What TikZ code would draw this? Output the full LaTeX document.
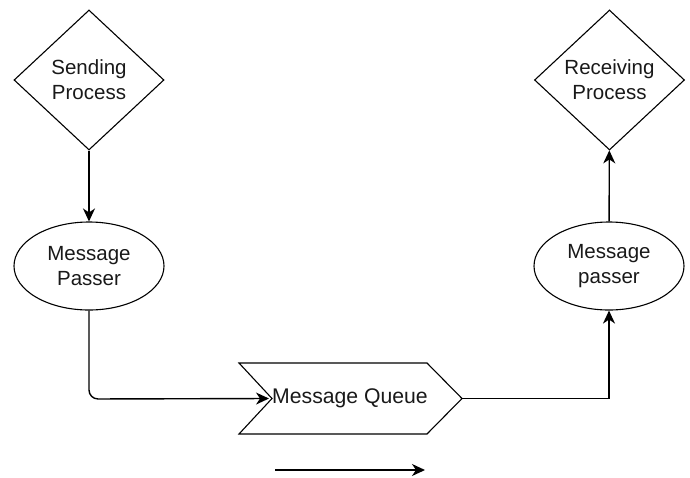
\documentclass[tikz,border=0pt]{standalone}
\usepackage{fontspec}
\setmainfont{Liberation Sans}
\usetikzlibrary{shapes.geometric,arrows.meta}
\begin{document}
\begin{tikzpicture}[x=1pt,y=-1pt,
  lbl/.style={font=\fontsize{20.5}{25}\selectfont, align=center, text=black!90},
  proc/.style={lbl, draw, line width=1.1pt, shape=diamond, aspect=1.07, minimum width=150pt, minimum height=140pt, inner sep=0pt},
  passer/.style={lbl, draw, line width=1.1pt, shape=ellipse, minimum width=150pt, minimum height=88pt, inner sep=0pt},
  conn/.style={line width=1.4pt, -{Stealth[length=13pt,width=12pt,inset=4pt]}},
  ]
\useasboundingbox (0,0) rectangle (690,477);
\node[proc] (send) at (89,80) {Sending\\Process};
\node[proc] (recv) at (609.5,80) {Receiving\\Process};
\node[passer] (mp1) at (89,266) {Message\\Passer};
\node[passer] (mp2) at (609,266) {Message\\passer};
% message queue chevron
\draw[line width=1.1pt] (239,363) -- (427,363) -- (462,398.5) -- (427,434) -- (239,434) -- (272,398.5) -- cycle;
\coordinate (mqin) at (269,398.5);
\coordinate (mqout) at (462,398.5);
\node[lbl, anchor=center, font=\fontsize{21.2}{25}\selectfont] (mq) at (350,398.5) {Message Queue};
\draw[conn] (send) -- (mp1);
\draw[conn, rounded corners=9pt] (mp1.south) -- (89,399) -- (mqin);
\draw[conn] (mqout) -| (mp2.south);
\draw[conn] (mp2) -- (recv);
\coordinate (la) at (275,470);
\coordinate (lb) at (425,470);
\draw[conn] (la) -- (lb);
\end{tikzpicture}
\end{document}
